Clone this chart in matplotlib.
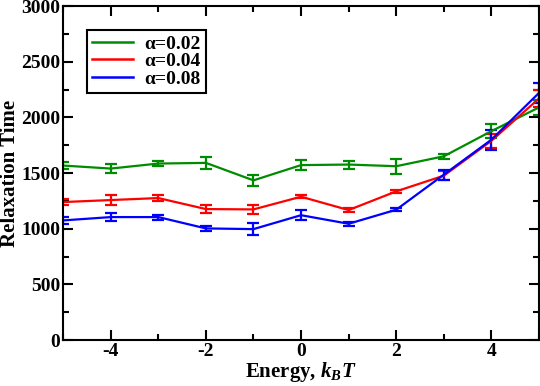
import matplotlib
matplotlib.use('Agg')
import matplotlib.pyplot as plt
from matplotlib.lines import Line2D
from matplotlib.ticker import MultipleLocator

plt.rcParams['font.family'] = ['Liberation Serif', 'DejaVu Serif']
plt.rcParams['font.weight'] = 'bold'
plt.rcParams['axes.unicode_minus'] = False
plt.rcParams['mathtext.fontset'] = 'custom'
plt.rcParams['mathtext.rm'] = 'Liberation Serif:bold'
plt.rcParams['mathtext.it'] = 'Liberation Serif:italic:bold'

energy = [-5, -4, -3, -2, -1, 0, 1, 2, 3, 4, 5]

t_002 = [1568, 1541, 1586, 1592, 1435, 1572, 1577, 1562, 1651, 1877, 2090]
e_002 = [35, 40, 25, 55, 50, 48, 36, 69, 24, 65, 70]

t_004 = [1240, 1258, 1276, 1177, 1174, 1288, 1168, 1336, 1477, 1790, 2170]
e_004 = [25, 48, 30, 33, 43, 15, 15, 15, 40, 60, 80]

t_008 = [1075, 1105, 1105, 1003, 997, 1122, 1045, 1171, 1486, 1800, 2220]
e_008 = [30, 38, 23, 20, 52, 46, 20, 15, 45, 90, 90]

series = [
    (t_002, e_002, '#008c00', 'α=0.02'),
    (t_004, e_004, '#ff0000', 'α=0.04'),
    (t_008, e_008, '#0000ff', 'α=0.08'),
]

fig = plt.figure(figsize=(5.4, 3.86), dpi=100)
ax = fig.add_axes([0.117, 0.119, 0.881, 0.865])

handles = []
for t, e, col, lab in series:
    ax.errorbar(energy, t, yerr=e, color=col, lw=1.6, elinewidth=1.6,
                capsize=4, capthick=1.6)
    handles.append(Line2D([], [], color=col, lw=1.8, label=lab))

ax.set_xlim(-5, 5)
ax.set_ylim(0, 3000)
ax.xaxis.set_major_locator(MultipleLocator(2))
ax.xaxis.set_minor_locator(MultipleLocator(1))
ax.yaxis.set_major_locator(MultipleLocator(500))
ax.yaxis.set_minor_locator(MultipleLocator(250))
ax.tick_params(which='both', direction='in', top=True, right=True, width=1.5,
               labelsize=14, pad=2)
ax.tick_params(which='major', length=7)
ax.tick_params(which='minor', length=4)
for s in ax.spines.values():
    s.set_linewidth(1.5)
for lbl in ax.get_xticklabels() + ax.get_yticklabels():
    lbl.set_fontweight('bold')

ax.set_xlabel(r'Energy, $k_BT$', fontsize=15, fontweight='bold', labelpad=0)
ax.set_ylabel('Relaxation Time', fontsize=15, fontweight='bold', labelpad=1)

leg = ax.legend(handles=handles, loc='upper left', bbox_to_anchor=(0.05, 0.928),
                borderaxespad=0, fontsize=14, fancybox=False, edgecolor='black',
                handlelength=2.1, borderpad=0.25, labelspacing=0.0,
                handletextpad=0.6, framealpha=1)
leg.get_frame().set_linewidth(1.5)

fig.savefig('out.png', dpi=100)
